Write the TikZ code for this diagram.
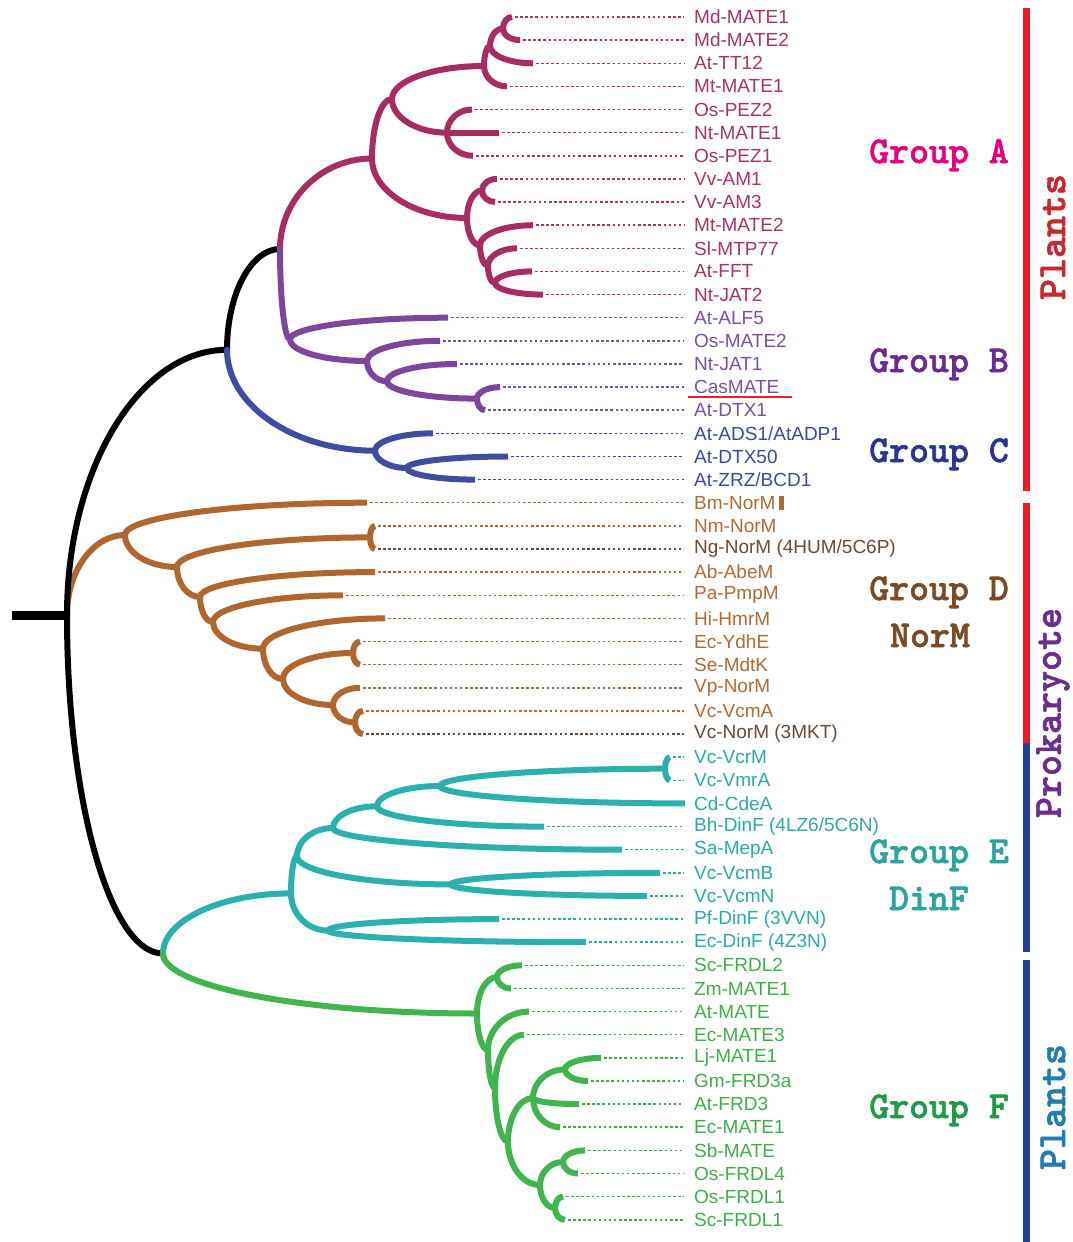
\documentclass[tikz,border=0pt]{standalone}
\usepackage{fontspec}
\setmainfont{Liberation Sans}
\newfontfamily\grpfont{lmmonolt10-bold.otf}[FakeBold=1.6]
\usetikzlibrary{calc}

% branch colours
\definecolor{cA}{HTML}{A82C64}
\definecolor{cB}{HTML}{7B469C}
\definecolor{cC}{HTML}{3F4CA0}
\definecolor{cD}{HTML}{B0672F}
\definecolor{cE}{HTML}{2BB0AE}
\definecolor{cF}{HTML}{40B54D}
% leaf label colours
\definecolor{tA}{HTML}{A5346A}
\definecolor{tB}{HTML}{7C509F}
\definecolor{tC}{HTML}{3A4AA0}
\definecolor{tD}{HTML}{B06A36}
\definecolor{tDk}{HTML}{6B4A35}
\definecolor{tE}{HTML}{2AAAA7}
\definecolor{tF}{HTML}{3DAF4A}
% group headings
\definecolor{gA}{HTML}{E6007E}
\definecolor{gB}{HTML}{6A2C8F}
\definecolor{gC}{HTML}{2B3590}
\definecolor{gD}{HTML}{7A4B27}
\definecolor{gE}{HTML}{2AA59D}
\definecolor{gF}{HTML}{1E9A48}
% side bars and their captions
\definecolor{barR}{HTML}{EE1D25}
\definecolor{barB}{HTML}{23409A}
\definecolor{vPa}{HTML}{C8282E}
\definecolor{vPr}{HTML}{6C2D91}
\definecolor{vPb}{HTML}{1E7EB0}

\tikzset{
  arcto/.style={to path={let \p1=(\tikztostart), \p2=(\tikztotarget) in
      .. controls (\x1,{\y1+0.55*(\y2-\y1)}) and ({\x2-0.55*(\x2-\x1)},\y2) .. (\tikztotarget)}},
  ib/.style={arcto, line width=6pt, line cap=round},
  lb/.style={arcto, line width=6pt, line cap=butt},
  leader/.style={line width=1.5pt, dash pattern=on 2.5pt off 2.6pt, shorten <=3pt, shorten >=8pt},
  leaf/.style={anchor=west, inner sep=2pt, font=\fontsize{19}{21}\selectfont},
  grp/.style={anchor=base, inner sep=0pt, font=\grpfont\fontsize{38}{38}\selectfont},
  side/.style={rotate=90, inner sep=0pt, font=\grpfont\fontsize{40}{40}\selectfont},
  bar/.style={line width=7pt},
}

% leaf: index, tip x, y, parent, branch colour, text colour, text
\newcommand\lf[7]{%
  \coordinate (l#1) at (#2,#3);
  \node[leaf, text=#6] (t#1) at (692,#3) {#7};
  \draw[leader, #6] (l#1) -- (t#1.west);
  \draw[lb, #5] (#4) to (l#1);
}

\begin{document}
\begin{tikzpicture}[x=1pt, y=-1pt]
\useasboundingbox (0,0) rectangle (1073,1242);

% internal nodes
\coordinate (stub) at (12,615);
\coordinate (root) at (67,615);
\coordinate (nABC) at (227,349.8);
\coordinate (nAB) at (280,249);
\coordinate (nA) at (372,158.5);
\coordinate (nA1) at (392,99);
\coordinate (nA11) at (484,66);
\coordinate (nA11a) at (490,46);
\coordinate (nA111) at (503,28.6);
\coordinate (nA12) at (447,132.7);
\coordinate (nA2) at (467,218);
\coordinate (nA21) at (482,190.5);
\coordinate (nA22) at (480,245.4);
\coordinate (nA23) at (488,265.7);
\coordinate (nA24) at (495,283);
\coordinate (nB) at (290,339.4);
\coordinate (nB1) at (367,361);
\coordinate (nB2) at (387,381.3);
\coordinate (nB3) at (477,398.6);
\coordinate (nC) at (375,450.7);
\coordinate (nC1) at (407,468);
\coordinate (nD) at (125,535);
\coordinate (nD1) at (177,567);
\coordinate (nD1a) at (370,537.4);
\coordinate (nD2) at (200,597);
\coordinate (nD3) at (213,622);
\coordinate (nD4) at (263,648.7);
\coordinate (nD5) at (283,679);
\coordinate (nD5a) at (353,653);
\coordinate (nD6) at (333,705);
\coordinate (nD6a) at (355,722.5);
\coordinate (nEF) at (163,953.5);
\coordinate (nE) at (291,893.4);
\coordinate (nE2) at (297,856.2);
\coordinate (nEa) at (333,828);
\coordinate (nEb) at (377,806.3);
\coordinate (nEc) at (440,786);
\coordinate (nEd) at (665,768.7);
\coordinate (nEf) at (451,884.4);
\coordinate (nEg) at (328,930.6);
\coordinate (nF) at (477,1013.5);
\coordinate (nF1) at (497,977);
\coordinate (nFa) at (488,1050);
\coordinate (nFb) at (495,1088);
\coordinate (nFc) at (508,1141.5);
\coordinate (nFd) at (533,1098);
\coordinate (nFd1) at (565,1069.4);
\coordinate (nFe) at (540,1185);
\coordinate (nFe1) at (563,1162);
\coordinate (nFe2) at (555,1208);

% internal branches
\draw[ib, cD] (root) to (nD) (nD) to (nD1) (nD1) to (nD1a) (nD1) to (nD2)
  (nD2) to (nD3) (nD3) to (nD4) (nD4) to (nD5) (nD5) to (nD5a) (nD5) to (nD6)
  (nD6) to (nD6a);
\draw[line width=9pt] (stub) -- (root);
\draw[ib, black] (root) to (nABC) (nABC) to (nAB) (root) to (nEF);
\draw[ib, cA] (nAB) to (nA) (nA) to (nA1) (nA1) to (nA11) (nA11) to (nA11a)
  (nA11a) to (nA111) (nA1) to (nA12) (nA) to (nA2) (nA2) to (nA21)
  (nA2) to (nA22) (nA22) to (nA23) (nA23) to (nA24);
\draw[ib, cB] (nAB) to (nB) (nB) to (nB1) (nB1) to (nB2) (nB2) to (nB3);
\draw[ib, cC] (nABC) to (nC) (nC) to (nC1);
\draw[ib, cE] (nEF) to (nE) (nE) to (nE2) (nE2) to (nEa) (nEa) to (nEb)
  (nEb) to (nEc) (nEc) to (nEd) (nE2) to (nEf) (nE) to (nEg);
\draw[ib, cF] (nEF) to (nF) (nF) to (nF1) (nF) to (nFa) (nFa) to (nFb)
  (nFb) to (nFc) (nFc) to (nFd) (nFd) to (nFd1) (nFc) to (nFe)
  (nFe) to (nFe1) (nFe) to (nFe2);

% leaves
\lf{1}{512}{17}{nA111}{cA}{tA}{Md-MATE1}
\lf{2}{520}{40.1}{nA111}{cA}{tA}{Md-MATE2}
\lf{3}{533}{63.3}{nA11a}{cA}{tA}{At-TT12}
\lf{4}{507}{86.4}{nA11}{cA}{tA}{Mt-MATE1}
\lf{5}{472}{109.5}{nA12}{cA}{tA}{Os-PEZ2}
\lf{6}{499}{132.7}{nA12}{cA}{tA}{Nt-MATE1}
\lf{7}{473}{155.8}{nA12}{cA}{tA}{Os-PEZ1}
\lf{8}{497}{178.9}{nA21}{cA}{tA}{Vv-AM1}
\lf{9}{495}{202}{nA21}{cA}{tA}{Vv-AM3}
\lf{10}{533}{225.2}{nA22}{cA}{tA}{Mt-MATE2}
\lf{11}{517}{248.3}{nA23}{cA}{tA}{Sl-MTP77}
\lf{12}{532}{271.4}{nA24}{cA}{tA}{At-FFT}
\lf{13}{543}{294.6}{nA24}{cA}{tA}{Nt-JAT2}
\lf{14}{448}{317.7}{nB}{cB}{tB}{At-ALF5}
\lf{15}{440}{340.8}{nB1}{cB}{tB}{Os-MATE2}
\lf{16}{457}{364}{nB2}{cB}{tB}{Nt-JAT1}
\lf{17}{500}{387.1}{nB3}{cB}{tB}{CasMATE}
\lf{18}{485}{410.2}{nB3}{cB}{tB}{At-DTX1}
\lf{19}{433}{433.3}{nC}{cC}{tC}{At-ADS1/AtADP1}
\lf{20}{508}{456.5}{nC1}{cC}{tC}{At-DTX50}
\lf{21}{475}{479.6}{nC1}{cC}{tC}{At-ZRZ/BCD1}
\lf{22}{367}{502.7}{nD}{cD}{tD}{Bm-NorM}
\lf{23}{375}{525.9}{nD1a}{cD}{tD}{Nm-NorM}
\lf{24}{375}{549}{nD1a}{cD}{tDk}{Ng-NorM (4HUM/5C6P)}
\lf{25}{375}{572.1}{nD2}{cD}{tD}{Ab-AbeM}
\lf{26}{343}{595.3}{nD3}{cD}{tD}{Pa-PmpM}
\lf{27}{385}{618.4}{nD4}{cD}{tD}{Hi-HmrM}
\lf{28}{360}{641.5}{nD5a}{cD}{tD}{Ec-YdhE}
\lf{29}{360}{664.6}{nD5a}{cD}{tD}{Se-MdtK}
\lf{30}{360}{687.8}{nD6}{cD}{tD}{Vp-NorM}
\lf{31}{363}{710.9}{nD6a}{cD}{tD}{Vc-VcmA}
\lf{32}{363}{734}{nD6a}{cD}{tDk}{Vc-NorM (3MKT)}
\lf{33}{670}{757.2}{nEd}{cE}{tE}{Vc-VcrM}
\lf{34}{670}{780.3}{nEd}{cE}{tE}{Vc-VmrA}
\lf{35}{685}{803.4}{nEc}{cE}{tE}{Cd-CdeA}
\lf{36}{544}{826.6}{nEb}{cE}{tE}{Bh-DinF (4LZ6/5C6N)}
\lf{37}{622}{849.7}{nEa}{cE}{tE}{Sa-MepA}
\lf{38}{660}{872.8}{nEf}{cE}{tE}{Vc-VcmB}
\lf{39}{647}{895.9}{nEf}{cE}{tE}{Vc-VcmN}
\lf{40}{499}{919.1}{nEg}{cE}{tE}{Pf-DinF (3VVN)}
\lf{41}{586}{942.2}{nEg}{cE}{tE}{Ec-DinF (4Z3N)}
\lf{42}{522}{965.3}{nF1}{cF}{tF}{Sc-FRDL2}
\lf{43}{511}{988.5}{nF1}{cF}{tF}{Zm-MATE1}
\lf{44}{529}{1011.6}{nFa}{cF}{tF}{At-MATE}
\lf{45}{524}{1034.7}{nFb}{cF}{tF}{Ec-MATE3}
\lf{46}{601}{1057.9}{nFd1}{cF}{tF}{Lj-MATE1}
\lf{47}{588}{1081}{nFd1}{cF}{tF}{Gm-FRD3a}
\lf{48}{579}{1104.1}{nFd}{cF}{tF}{At-FRD3}
\lf{49}{560}{1127.2}{nFd}{cF}{tF}{Ec-MATE1}
\lf{50}{585}{1150.4}{nFe1}{cF}{tF}{Sb-MATE}
\lf{51}{578}{1173.5}{nFe1}{cF}{tF}{Os-FRDL4}
\lf{52}{563}{1196.6}{nFe2}{cF}{tF}{Os-FRDL1}
\lf{53}{565}{1219.8}{nFe2}{cF}{tF}{Sc-FRDL1}

% marks next to two labels
\draw[barR, line width=2.7pt] (688,397) -- (792,397);
\fill[tD] ([xshift=1pt,yshift=7pt]t22.east) rectangle ++(5,14);

% group headings
\node[grp, text=gA] (hA) at (939,163) {Group A};
\node[grp, text=gB] (hB) at (939,372) {Group B};
\node[grp, text=gC] (hC) at (939,462) {Group C};
\node[grp, text=gD] (hD) at (939,600) {Group D};
\node[grp, text=gD] (hNorM) at (930,647) {NorM};
\node[grp, text=gE] (hE) at (939,863) {Group E};
\node[grp, text=gE] (hDinF) at (929,910) {DinF};
\node[grp, text=gF] (hF) at (939,1118) {Group F};

% side bars
\draw[bar, barR] (1026,8) -- (1026,491);
\draw[bar, barR] (1026,503) -- (1026,743);
\draw[bar, barB] (1026,743) -- (1026,952);
\draw[bar, barB] (1026,960) -- (1026,1242);
\node[side, text=vPa] (sPlantsTop) at (1053,237) {Plants};
\node[side, text=vPr] (sProk) at (1053,713) {Prokaryote};
\node[side, text=vPb] (sPlantsLow) at (1053,1107) {Plants};
\end{tikzpicture}
\end{document}
